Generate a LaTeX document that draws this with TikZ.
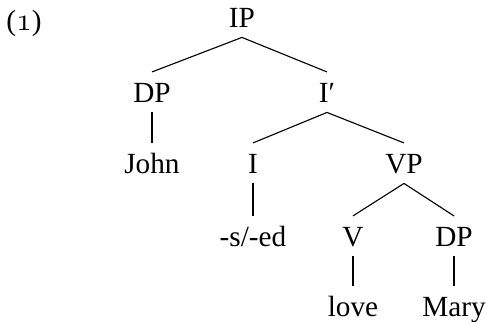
\documentclass[12pt,tikz,border=0pt]{standalone}
\usepackage{fontspec}
\setmainfont{Liberation Serif}
% old-style figure for the example number
\newcommand{\exnum}[1]{{\usefont{OML}{cmm}{m}{it}\fontsize{15}{18}\selectfont #1}}

\begin{document}
\begin{tikzpicture}[
					font=\fontsize{13}{16}\selectfont,
					tree node/.style={anchor=base, inner sep=4pt, text height=0.8em, text depth=0pt},
					tree edge/.style={line width=0.5pt},
				]
					\useasboundingbox (0,0) rectangle (7.592,-5.030);

					\node[anchor=base] (ex) at (0.375,-0.470) {(\exnum{1})};

					\node[tree node] (ip) at (3.780,-0.437) {IP};
					\node[tree node] (dp) at (2.374,-1.609) {DP};
					\node[tree node] (ibar) at (5.108,-1.609) {I′};
					\node[tree node] (john) at (2.374,-2.718) {John};
					\node[tree node] (i) at (3.952,-2.718) {I};
					\node[tree node] (vp) at (6.311,-2.718) {VP};
					\node[tree node] (infl) at (3.952,-3.858) {-s/-ed};
					\node[tree node] (v) at (5.514,-3.858) {V};
					\node[tree node] (obj) at (7.092,-3.858) {DP};
					\node[tree node] (love) at (5.514,-4.952) {love};
					\node[tree node] (mary) at (7.092,-4.952) {Mary};

					\draw[tree edge] (ip.south) -- (dp.north);
					\draw[tree edge] (ip.south) -- (ibar.north);
					\draw[tree edge] (dp.south) -- (john.north);
					\draw[tree edge] (ibar.south) -- (i.north);
					\draw[tree edge] (ibar.south) -- (vp.north);
					\draw[tree edge] (i.south) -- (infl.north);
					\draw[tree edge] (vp.south) -- (v.north);
					\draw[tree edge] (vp.south) -- (obj.north);
					\draw[tree edge] (v.south) -- (love.north);
					\draw[tree edge] (obj.south) -- (mary.north);
				\end{tikzpicture}
\end{document}
